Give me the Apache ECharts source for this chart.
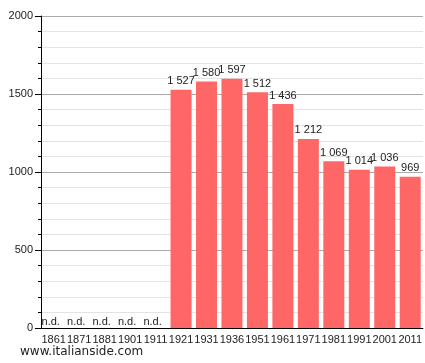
<!DOCTYPE html>
<html>
<head>
<meta charset="utf-8">
<script src="https://cdn.jsdelivr.net/npm/echarts@6/dist/echarts.min.js"></script>
<style>
  html, body { margin: 0; padding: 0; background: #fff; }
  #chart { width: 425px; height: 363px; }
</style>
</head>
<body>
<div id="chart"></div>
<script>
// census years and population (null = no data)
const years = ["1861", "1871", "1881", "1901", "1911", "1921", "1931", "1936", "1951", "1961", "1971", "1981", "1991", "2001", "2011"];
const population = [null, null, null, null, null, 1527, 1580, 1597, 1512, 1436, 1212, 1069, 1014, 1036, 969];
const yTicks = [0, 500, 1000, 1500, 2000];

const fmt = (v) => String(v).replace(/\B(?=(\d{3})+(?!\d))/g, " ");

const chart = echarts.init(document.getElementById("chart"));
chart.setOption({
  animation: false,
  textStyle: { fontFamily: "Liberation Sans" },
  grid: { left: 41, right: 1, top: 16, bottom: 35 },
  xAxis: {
    type: "category",
    data: years,
    axisLine: { lineStyle: { color: "#000", width: 1 } },
    axisTick: { show: false },
    axisLabel: { color: "#222", fontSize: 11, margin: 6, interval: 0 },
  },
  yAxis: {
    type: "value",
    min: yTicks[0],
    max: yTicks[yTicks.length - 1],
    interval: 500,
    axisLine: { show: true, lineStyle: { color: "#000", width: 1 } },
    axisTick: { show: true, length: 6, lineStyle: { color: "#000" } },
    minorTick: { show: true, splitNumber: 5, length: 3, lineStyle: { color: "#000" } },
    axisLabel: { color: "#222", fontSize: 11, margin: 8, formatter: (v) => String(v) },
    splitLine: { lineStyle: { color: "#aaa", width: 1 } },
    minorSplitLine: { show: true, lineStyle: { color: "#e3e3e3", width: 1 } },
  },
  series: [
    {
      type: "bar",
      barWidth: 21,
      itemStyle: { color: "#ff6666" },
      label: {
        show: true,
        position: "top",
        distance: 3,
        color: "#222",
        fontSize: 11,
        formatter: (p) => fmt(p.value),
      },
      data: population.map((v) =>
        v === null
          ? { value: 0, label: { formatter: "n.d.", offset: [-3, 0], distance: 1 } }
          : v
      ),
    },
  ],
  graphic: [
    {
      type: "text",
      left: 20,
      top: 346,
      style: {
        text: "www.italianside.com",
        fill: "#222",
        font: "12px 'DejaVu Sans', sans-serif",
      },
    },
  ],
});
</script>
</body>
</html>
